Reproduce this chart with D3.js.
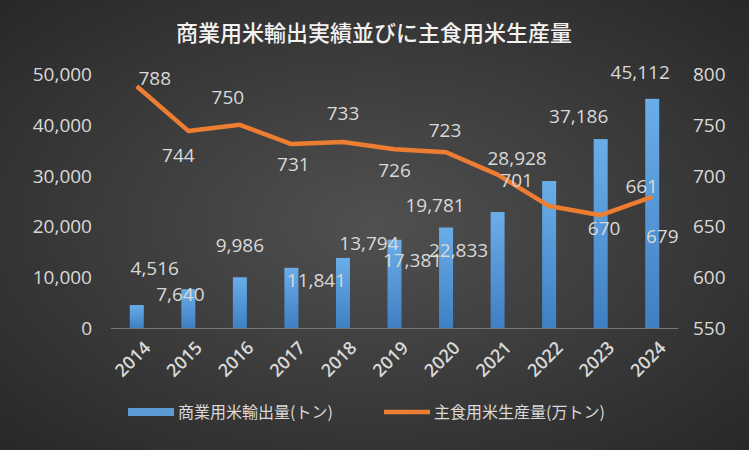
<!DOCTYPE html>
<html><head><meta charset="utf-8">
<script src="https://cdn.jsdelivr.net/npm/d3@7"></script>
<style>body{margin:0;background:#333}</style></head>
<body><svg id="c" width="749" height="450"></svg>
<script>
const years = ['2014','2015','2016','2017','2018','2019','2020','2021','2022','2023','2024']
const exports = [4516, 7640, 9986, 11841, 13794, 17381, 19781, 22833, 28928, 37186, 45112]
const production = [788, 744, 750, 731, 733, 726, 723, 701, 670, 661, 679]
const leftTicks = [0, 10000, 20000, 30000, 40000, 50000]
const rightTicks = [550, 600, 650, 700, 750, 800]
// label offsets (dx, dy) relative to the mark
const barLabelOff = [[18,-37],[-8,5],[0,-32],[25,12],[26,-15],[18,20],[-11,-23],[-39,38],[-32,-23],[-22,-23],[-12,-27]]
const lineLabelOff = [[18,-8],[-10,24],[-12,-28],[2,20],[0,-29],[0,21],[-1,-22],[19,5],[55,22],[41,-29],[10,39]]

const svg = d3.select('#c')
const defs = svg.append('defs')
const bg = defs.append('radialGradient').attr('id', 'bg').attr('cx', '50%').attr('cy', '50%').attr('r', '70%')
bg.append('stop').attr('offset', '0%').attr('stop-color', '#505050')
bg.append('stop').attr('offset', '100%').attr('stop-color', '#282828')
const bg2 = defs.append('linearGradient').attr('id', 'bar').attr('x1', 0).attr('x2', 0).attr('y1', 0).attr('y2', 1)
bg2.append('stop').attr('offset', '0%').attr('stop-color', '#6aaee8')
bg2.append('stop').attr('offset', '100%').attr('stop-color', '#3f7fc4')
svg.append('rect').attr('width', 749).attr('height', 450).attr('fill', 'url(#bg)')

const x = d3.scaleBand().domain(years).range([111, 678])
const yL = d3.scaleLinear().domain([0, 50000]).range([328, 74])
const yR = d3.scaleLinear().domain([550, 800]).range([328, 74])
const txt = '#d9d9d9'
const font = '"Open Sans", "Noto Sans CJK JP", sans-serif'

svg.append('text').attr('x', 374).attr('y', 41).attr('text-anchor', 'middle')
  .attr('fill', '#f2f2f2').attr('font-size', 22).attr('font-weight', 500)
  .attr('font-family', '"Noto Sans CJK JP", sans-serif').text('商業用米輸出実績並びに主食用米生産量')

const g = svg.append('g').attr('font-family', font)
g.selectAll('.lt').data(leftTicks).join('text').attr('x', 92).attr('y', d => yL(d) + 7)
  .attr('text-anchor', 'end').attr('fill', txt).attr('font-size', 19).text(d => d3.format(',')(d))
g.selectAll('.rt').data(rightTicks).join('text').attr('x', 693).attr('y', d => yR(d) + 7)
  .attr('fill', txt).attr('font-size', 19).text(d => d)
g.append('line').attr('x1', 111).attr('x2', 678).attr('y1', 328.5).attr('y2', 328.5).attr('stroke', '#777')

const bw = 14
g.selectAll('.bar').data(exports).join('rect').attr('x', (d, i) => x(years[i]) + x.bandwidth() / 2 - bw / 2)
  .attr('y', d => yL(d)).attr('width', bw).attr('height', d => 328 - yL(d)).attr('fill', 'url(#bar)')

g.selectAll('.xl').data(years).join('text')
  .attr('transform', d => `translate(${x(d) + x.bandwidth() / 2 + 6},${340}) rotate(-45)`)
  .attr('text-anchor', 'end').attr('dy', '0.7em').attr('fill', txt).attr('font-size', 18)
  .attr('font-weight', 600).text(d => d)

const line = d3.line().x((d, i) => x(years[i]) + x.bandwidth() / 2).y(d => yR(d))
g.append('path').datum(production).attr('d', line).attr('fill', 'none')
  .attr('stroke', '#ed7d31').attr('stroke-width', 4.5).attr('stroke-linejoin', 'round')

g.selectAll('.bl').data(exports).join('text')
  .attr('x', (d, i) => x(years[i]) + x.bandwidth() / 2 + barLabelOff[i][0])
  .attr('y', (d, i) => yL(d) + barLabelOff[i][1] + 7).attr('text-anchor', 'middle')
  .attr('fill', txt).attr('font-size', 19).text(d => d3.format(',')(d))
g.selectAll('.ll').data(production).join('text')
  .attr('x', (d, i) => x(years[i]) + x.bandwidth() / 2 + lineLabelOff[i][0])
  .attr('y', (d, i) => yR(d) + lineLabelOff[i][1] + 7).attr('text-anchor', 'middle')
  .attr('fill', txt).attr('font-size', 19).text(d => d)

const lg = svg.append('g').attr('font-family', '"Noto Sans CJK JP", sans-serif')
lg.append('rect').attr('x', 128).attr('y', 408).attr('width', 46).attr('height', 8).attr('fill', '#5b9bd5')
lg.append('text').attr('x', 178).attr('y', 418).attr('fill', txt).attr('font-size', 16).text('商業用米輸出量(トン)')
lg.append('line').attr('x1', 384).attr('x2', 430).attr('y1', 412).attr('y2', 412).attr('stroke', '#ed7d31').attr('stroke-width', 4.5)
lg.append('text').attr('x', 434).attr('y', 418).attr('fill', txt).attr('font-size', 16).text('主食用米生産量(万トン)')
</script></body></html>
